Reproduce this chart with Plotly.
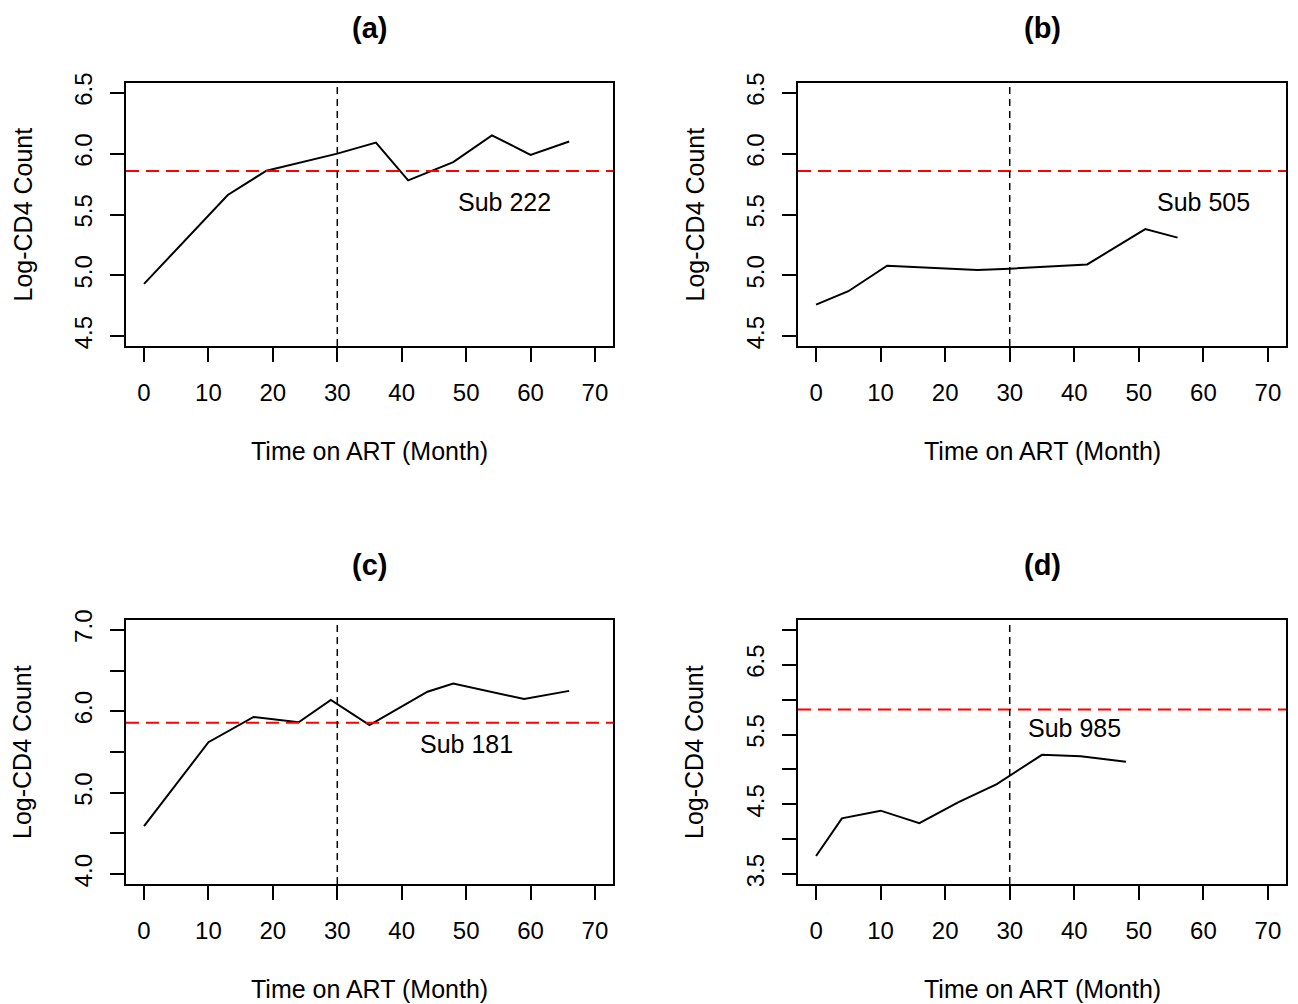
import plotly.graph_objects as go

# ---- data ----
time_a = [0, 13, 19, 30, 36, 41, 48, 54, 60, 66]
cd4_a = [4.93, 5.66, 5.86, 6.00, 6.09, 5.78, 5.93, 6.15, 5.99, 6.10]

time_b = [0, 5, 11, 25, 30, 42, 51, 56]
cd4_b = [4.76, 4.87, 5.08, 5.045, 5.055, 5.09, 5.38, 5.31]

time_c = [0, 10, 17, 24, 29, 35, 44, 48, 59, 66]
cd4_c = [4.59, 5.62, 5.93, 5.865, 6.14, 5.83, 6.24, 6.34, 6.15, 6.25]

time_d = [0, 4, 10, 16, 22, 28, 35, 41, 48]
cd4_d = [3.76, 4.30, 4.41, 4.23, 4.53, 4.79, 5.21, 5.19, 5.11]

panel_titles = ["(a)", "(b)", "(c)", "(d)"]
subject_labels = ["Sub 222", "Sub 505", "Sub 181", "Sub 985"]
label_x = [56, 60, 50, 40]
label_y = [5.6, 5.6, 5.6, 5.6]
threshold = 5.858   # log(350)
art_switch = 30

x_ticks = [0, 10, 20, 30, 40, 50, 60, 70]
y_ticks_ab = [4.5, 5.0, 5.5, 6.0, 6.5]
y_text_ab = ["4.5", "5.0", "5.5", "6.0", "6.5"]
y_ticks_c = [4.0, 4.5, 5.0, 5.5, 6.0, 6.5, 7.0]
y_text_c = ["4.0", "", "5.0", "", "6.0", "", "7.0"]
y_ticks_d = [3.5, 4.0, 4.5, 5.0, 5.5, 6.0, 6.5, 7.0]
y_text_d = ["3.5", "", "4.5", "", "5.5", "", "6.5", ""]

x_title = "Time on ART (Month)"
y_title = "Log-CD4 Count"

# ---- layout geometry (pixels, in window coordinates) ----
W, H = 1298, 1004
OFF = 8   # page body margin: the figure starts 8 px in from the window corner
FONT = "Liberation Sans, Arial, sans-serif"
cols = [(126, 613), (798, 1286)]
rows = [(83, 346), (620, 884)]

def px(v):
    return (v - OFF) / W

def py(v):
    return 1 - (v - OFF) / H

series = [(time_a, cd4_a), (time_b, cd4_b), (time_c, cd4_c), (time_d, cd4_d)]
yranges = [[4.42, 6.58], [4.42, 6.58], [3.88, 7.12], [3.36, 7.14]]
yticks = [(y_ticks_ab, y_text_ab), (y_ticks_ab, y_text_ab), (y_ticks_c, y_text_c), (y_ticks_d, y_text_d)]

fig = go.Figure()
layout = dict(
    width=W, height=H,
    margin=dict(l=0, r=0, t=0, b=0, pad=0, autoexpand=False),
    paper_bgcolor="white", plot_bgcolor="white",
    showlegend=False,
    font=dict(family=FONT, size=24, color="black"),
)
annotations = []
shapes = []

def ann(x, y, text, size=25, xref="paper", yref="paper", angle=0):
    return dict(x=x, y=y, xref=xref, yref=yref, text=text, showarrow=False,
                xanchor="center", yanchor="middle", textangle=angle,
                font=dict(family=FONT, size=size, color="black"))

for i, (xs, ys) in enumerate(series):
    r, c = divmod(i, 2)
    n = "" if i == 0 else str(i + 1)
    xa, ya = "x" + n, "y" + n
    fig.add_trace(go.Scatter(x=xs, y=ys, mode="lines", xaxis=xa, yaxis=ya,
                             line=dict(color="black", width=2)))
    axis_common = dict(showline=True, mirror=True, linecolor="black", linewidth=1.5,
                       showgrid=False, zeroline=False, ticks="outside", ticklen=14,
                       tickwidth=1.5, tickcolor="black", automargin=False,
                       tickfont=dict(family=FONT, size=24, color="black"))
    layout["xaxis" + n] = dict(axis_common, domain=[px(cols[c][0]), px(cols[c][1])],
                               range=[-2.8, 72.8], tickvals=x_ticks, anchor=ya,
                               ticklabelstandoff=10)
    tv, tt = yticks[i]
    layout["yaxis" + n] = dict(axis_common, domain=[py(rows[r][1]), py(rows[r][0])],
                               range=yranges[i], tickvals=tv, ticktext=tt, tickangle=-90,
                               anchor=xa, ticklabelstandoff=9)
    # reference lines
    shapes.append(dict(type="line", xref=xa + " domain", yref=ya, x0=0, x1=1,
                       y0=threshold, y1=threshold,
                       line=dict(color="#ff0000", width=2, dash="13px,7px")))
    shapes.append(dict(type="line", xref=xa, yref=ya + " domain", x0=art_switch, x1=art_switch,
                       y0=0, y1=1, line=dict(color="black", width=1.5, dash="7px,5px")))
    # subject label
    annotations.append(ann(label_x[i], label_y[i], subject_labels[i], xref=xa, yref=ya))
    # panel title
    cxp = (cols[c][0] + cols[c][1]) / 2
    annotations.append(ann(px(cxp), py(rows[r][0] - 55), "<b>" + panel_titles[i] + "</b>", size=29))
    # x axis title
    annotations.append(ann(px(cxp), py(rows[r][1] + 105), x_title))
    # y axis title
    cyp = (rows[r][0] + rows[r][1]) / 2
    annotations.append(ann(px(cols[c][0] - 104), py(cyp), y_title, angle=-90))

layout["annotations"] = annotations
layout["shapes"] = shapes
fig.update_layout(**layout)
fig.write_html("out.html")
